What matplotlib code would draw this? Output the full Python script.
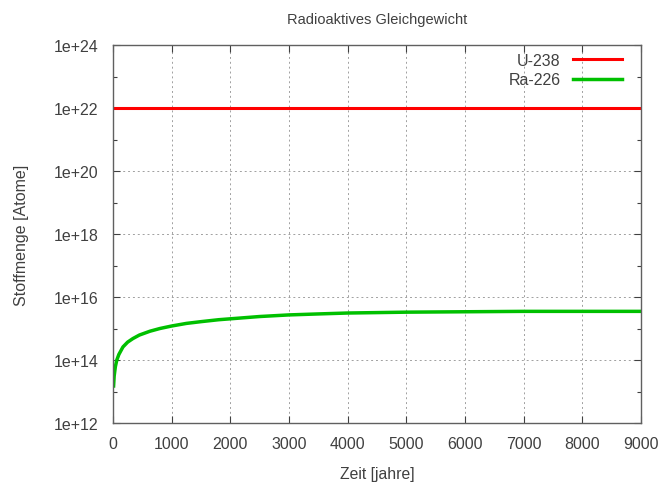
import matplotlib
matplotlib.use("Agg")
import matplotlib.pyplot as plt
from matplotlib.ticker import FixedLocator, FixedFormatter

# U-238 amount (practically constant over this span)
t_u = [0, 9000]
n_u = [1e22, 1e22]

# Ra-226 build-up
t_ra = [10, 20, 40, 65, 100, 170, 250, 340, 450, 630, 800, 1000, 1250,
        1500, 1800, 2100, 2500, 3000, 3500, 4000, 5000, 6000, 7000, 8000, 9000]
n_ra = [1.5e13, 3.1e13, 6.1e13, 1.0e14, 1.5e14, 2.6e14, 3.7e14, 4.8e14,
        6.2e14, 8.2e14, 1.0e15, 1.2e15, 1.45e15, 1.65e15, 1.9e15, 2.1e15,
        2.4e15, 2.7e15, 2.9e15, 3.1e15, 3.3e15, 3.4e15, 3.5e15, 3.5e15, 3.5e15]

xticks = [0, 1000, 2000, 3000, 4000, 5000, 6000, 7000, 8000, 9000]
yticks = [1e12, 1e14, 1e16, 1e18, 1e20, 1e22, 1e24]
ylabels = ["1e+12", "1e+14", "1e+16", "1e+18", "1e+20", "1e+22", "1e+24"]
yminor = [1e13, 1e15, 1e17, 1e19, 1e21, 1e23]

txt = "#404040"
plt.rcParams["font.family"] = ["Liberation Sans", "DejaVu Sans"]
plt.rcParams["font.size"] = 11.5

fig = plt.figure(figsize=(6.6, 4.85), dpi=100)
ax = fig.add_axes([113 / 660, 61 / 485, 528 / 660, 378 / 485])

ax.plot(t_u, n_u, color="#ff0000", lw=2.2, label="U-238")
ax.plot(t_ra, n_ra, color="#00c000", lw=2.5, label="Ra-226")

ax.set_yscale("log")
ax.set_xlim(0, 9000)
ax.set_ylim(1e12, 1e24)
ax.xaxis.set_major_locator(FixedLocator(xticks))
ax.yaxis.set_major_locator(FixedLocator(yticks))
ax.yaxis.set_major_formatter(FixedFormatter(ylabels))
ax.yaxis.set_minor_locator(FixedLocator(yminor))
ax.yaxis.set_minor_formatter(FixedFormatter([""] * len(yminor)))

ax.grid(True, which="major", color="#a0a0a0", linestyle=(0, (2, 3)), lw=0.7)
ax.tick_params(which="both", direction="in", top=True, right=True,
               color="#404040", labelcolor=txt, labelsize=11.5)
ax.tick_params(which="major", length=5, width=0.8)
ax.tick_params(which="minor", length=3, width=0.8)
ax.tick_params(axis="x", which="major", pad=9.5)
ax.tick_params(axis="y", which="major", pad=10.5)
for s in ax.spines.values():
    s.set_color("#606060")
    s.set_linewidth(1.0)

ax.set_xlabel("Zeit [jahre]", color=txt, fontsize=11.3, labelpad=11)
ax.set_ylabel("Stoffmenge [Atome]", color=txt, fontsize=11.5, labelpad=18)
ax.set_title("Radioaktives Gleichgewicht", color=txt, fontsize=10.5, pad=16)

ax.legend(loc="upper right", frameon=False, markerfirst=False,
          handlelength=3.05, handletextpad=0.8, borderaxespad=0,
          borderpad=0, labelspacing=0.3, labelcolor=txt,
          bbox_to_anchor=(0.964, 0.98))

fig.savefig("out.png", dpi=100)
